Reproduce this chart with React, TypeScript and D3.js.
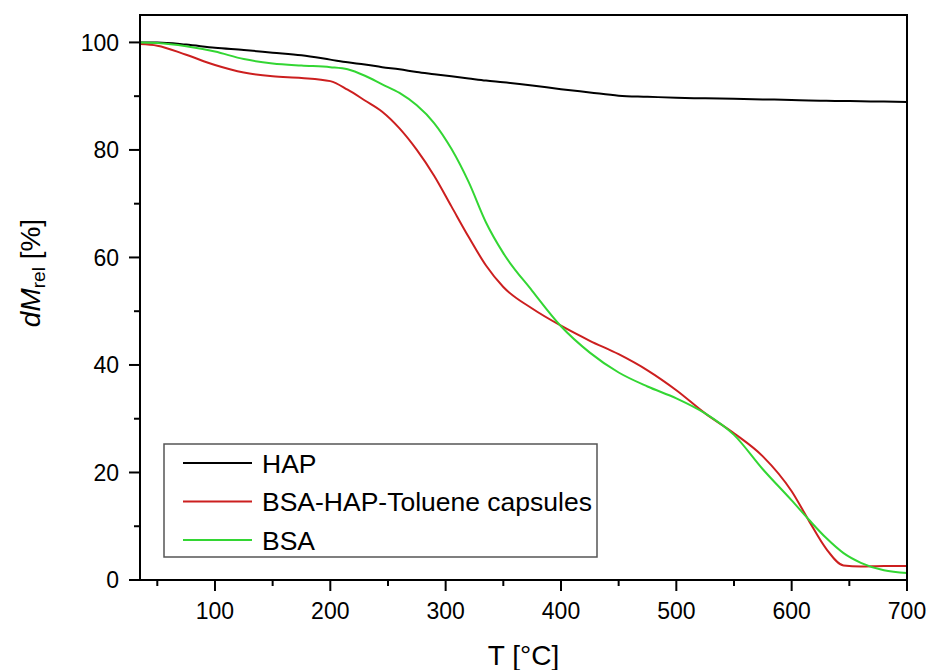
import React from 'react';
import * as d3 from 'd3';

const temps = [35, 50, 75, 100, 125, 150, 175, 200, 215, 230, 245, 260, 275, 290, 305, 320, 335, 350, 375, 400, 425, 450, 475, 500, 525, 550, 575, 600, 615, 630, 645, 660, 680, 700];
const hap = [100, 100, 99.6, 99.0, 98.6, 98.1, 97.6, 96.8, 96.3, 95.9, 95.4, 95.0, 94.5, 94.1, 93.7, 93.3, 92.9, 92.6, 92.0, 91.3, 90.7, 90.1, 89.9, 89.7, 89.6, 89.5, 89.4, 89.3, 89.2, 89.15, 89.1, 89.05, 89.0, 88.9];
const capsules = [99.7, 99.4, 97.7, 95.8, 94.4, 93.7, 93.4, 92.8, 91.2, 89.2, 87.1, 84.0, 80.0, 75.2, 69.5, 63.8, 58.5, 54.5, 50.5, 47.3, 44.5, 42.0, 39.0, 35.3, 31.0, 27.3, 23.0, 16.5, 11.0, 5.8, 2.7, 2.5, 2.6, 2.6];
const bsa = [100, 99.9, 99.3, 98.3, 96.9, 96.1, 95.7, 95.4, 95.0, 93.8, 92.2, 90.6, 88.3, 85.0, 80.2, 74.0, 66.5, 60.8, 53.8, 47.2, 42.3, 38.6, 36.0, 33.8, 31.0, 27.0, 20.6, 14.8, 11.2, 7.8, 5.0, 3.2, 1.8, 1.3];

const seriesNames = ['HAP', 'BSA-HAP-Toluene capsules', 'BSA'];
const seriesColors = ['#000000', '#cc1f1f', '#33d633'];
const seriesValues = [hap, capsules, bsa];

const xMajor = [100, 200, 300, 400, 500, 600, 700];
const xMinor = [50, 150, 250, 350, 450, 550, 650];
const yMajor = [0, 20, 40, 60, 80, 100];
const yMinor = [10, 30, 50, 70, 90];

const W = 929;
const H = 670;
const left = 140;
const top = 15;
const right = 907;
const bottom = 580;
const font = 'Arial, "Liberation Sans", sans-serif';

export default function App() {
  const x = d3.scaleLinear().domain([35, 700]).range([left, right]);
  const y = d3.scaleLinear().domain([0, 105.1]).range([bottom, top]);

  const line = (vals: number[]) =>
    d3.line<number>()
      .x((_, i) => x(temps[i]))
      .y(d => y(d))
      .curve(d3.curveMonotoneX)(vals) || '';

  return (
    <svg width={W} height={H} style={{ position: 'absolute', left: 0, top: 0, background: '#fff' }} fontFamily={font}>
      {seriesValues.map((vals, i) => (
        <path key={i} d={line(vals)} fill="none" stroke={seriesColors[i]} strokeWidth={2} />
      ))}

      <rect x={left} y={top} width={right - left} height={bottom - top} fill="none" stroke="#000" strokeWidth={2} />

      {xMajor.map(t => (
        <g key={'xM' + t}>
          <line x1={x(t)} x2={x(t)} y1={bottom} y2={bottom + 11} stroke="#000" strokeWidth={2} />
          <text x={x(t)} y={bottom + 39} fontSize={23} textAnchor="middle">{t}</text>
        </g>
      ))}
      {xMinor.map(t => (
        <line key={'xm' + t} x1={x(t)} x2={x(t)} y1={bottom} y2={bottom + 6} stroke="#000" strokeWidth={2} />
      ))}
      {yMajor.map(v => (
        <g key={'yM' + v}>
          <line x1={left - 11} x2={left} y1={y(v)} y2={y(v)} stroke="#000" strokeWidth={2} />
          <text x={left - 21} y={y(v) + 8.2} fontSize={23} textAnchor="end">{v}</text>
        </g>
      ))}
      {yMinor.map(v => (
        <line key={'ym' + v} x1={left - 6} x2={left} y1={y(v)} y2={y(v)} stroke="#000" strokeWidth={2} />
      ))}

      <text x={(left + right) / 2} y={665} fontSize={28} textAnchor="middle">T [°C]</text>
      <text transform={`translate(40, 273) rotate(-90)`} fontSize={28} textAnchor="middle">
        <tspan fontStyle="italic">dM</tspan>
        <tspan fontSize={19} dy={5}>rel</tspan>
        <tspan dy={-5}> [%]</tspan>
      </text>

      <rect x={164} y={444} width={433} height={113} fill="#fff" stroke="#555" strokeWidth={1.5} />
      {seriesNames.map((name, i) => {
        const cy = 463 + i * 38.5;
        return (
          <g key={name}>
            <line x1={183} x2={252} y1={cy} y2={cy} stroke={seriesColors[i]} strokeWidth={2} />
            <text x={262} y={cy + 9.5} fontSize={26.5}>{name}</text>
          </g>
        );
      })}
    </svg>
  );
}
